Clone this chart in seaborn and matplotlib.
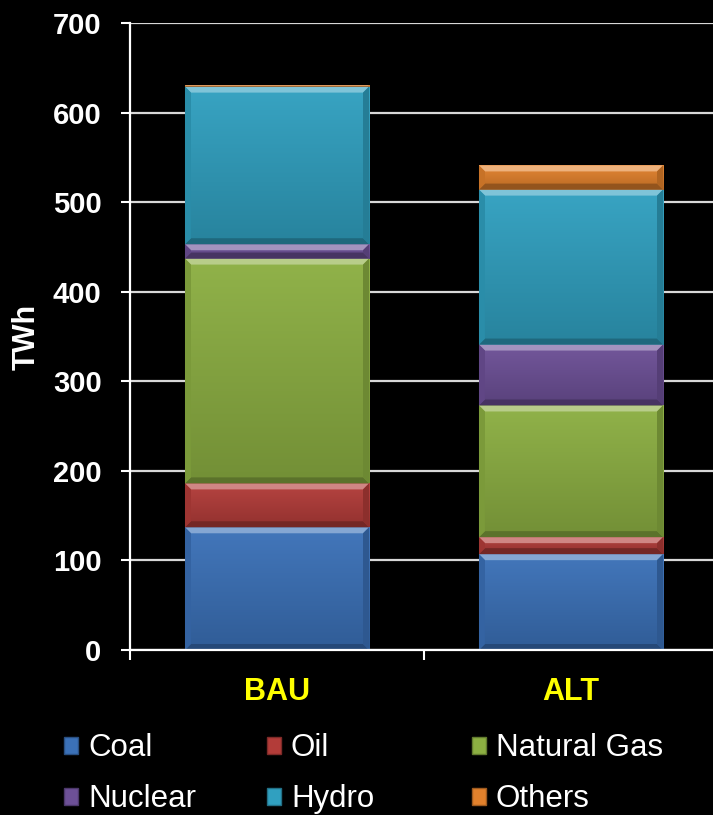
import numpy as np
import pandas as pd
import matplotlib
matplotlib.use("Agg")
import matplotlib.pyplot as plt
from matplotlib.patches import Polygon
from matplotlib.colors import to_rgb
import seaborn as sns

# Electricity generation by source (TWh) under two scenarios
scenarios = ["BAU", "ALT"]
sources = ["Coal", "Oil", "Natural Gas", "Nuclear", "Hydro", "Others"]
coal = [137, 107]
oil = [49, 19]
natural_gas = [251, 147]
nuclear = [16, 68]
hydro = [176, 173]
others = [1.5, 27]

colors = ["#3B71B8", "#B33C39", "#8CAF42", "#6D5097", "#30A0C0", "#E2812C"]

yticks = [0, 100, 200, 300, 400, 500, 600, 700]

sns.set_theme(style="dark")
plt.rcParams["font.family"] = ["Liberation Sans", "DejaVu Sans"]

series = [coal, oil, natural_gas, nuclear, hydro, others]
df = pd.DataFrame({name: vals for name, vals in zip(sources, series)}, index=scenarios)
cum = df.cumsum(axis=1)

W, H = 713, 815
fig = plt.figure(figsize=(W / 100, H / 100), dpi=100, facecolor="black")
ax = fig.add_axes([130 / W, (H - 650) / H, 588 / W, 627 / H])
ax.set_facecolor("black")

bar_width = 0.626
# Stacked bars: draw cumulative totals from the top layer down
layer_patches = {}
for name, col in reversed(list(zip(sources, colors))):
    before = len(ax.patches)
    sns.barplot(x=scenarios, y=cum[name].values, color=col, saturation=1,
                width=bar_width, ax=ax, zorder=2, linewidth=0)
    layer_patches[name] = ax.patches[before:]

ax.set_xlim(-0.5, 1.5)
ax.set_ylim(0, 700)

# Convert pixel sizes to data units for the bevel edges
fig.canvas.draw()
inv = ax.transData.inverted()
p0 = inv.transform((0, 0))
p1 = inv.transform((1, 1))
dx_px = p1[0] - p0[0]
dy_px = p1[1] - p0[1]
bev = 6


def mix(c, t, amount):
    c = np.array(to_rgb(c))
    t = np.array(to_rgb(t))
    return tuple(c + (t - c) * amount)


for i, (name, col) in enumerate(zip(sources, colors)):
    for j, patch in enumerate(layer_patches[name]):
        x0 = patch.get_x()
        w = patch.get_width()
        top = cum[name].values[j]
        bot = top - df[name].values[j]
        if top - bot <= 0:
            continue
        # vertical shading inside the segment
        c_top = np.array(mix(col, "white", 0.04))
        c_bot = np.array(mix(col, "black", 0.18))
        t = np.linspace(0, 1, 64)[:, None]
        grad = c_top * (1 - t) + c_bot * t
        img = np.repeat(grad[:, None, :], 2, axis=1)
        im = ax.imshow(img, extent=(x0, x0 + w, bot, top), aspect="auto",
                       origin="upper", zorder=2.1, interpolation="bilinear")
        im.set_clip_path(patch)
        ax.set_xlim(-0.5, 1.5)
        ax.set_ylim(0, 700)

        bx = bev * dx_px
        by = min(bev * dy_px, (top - bot) / 2)
        bx_s = min(bx, by / dy_px * dx_px) if by < bev * dy_px else bx
        xl, xr = x0, x0 + w
        # top bevel (light), bottom bevel (dark), side bevels
        faces = [
            ([(xl, top), (xr, top), (xr - bx_s, top - by), (xl + bx_s, top - by)],
             mix(col, "white", 0.38)),
            ([(xl, bot), (xr, bot), (xr - bx_s, bot + by), (xl + bx_s, bot + by)],
             mix(col, "black", 0.35)),
            ([(xl, top), (xl + bx_s, top - by), (xl + bx_s, bot + by), (xl, bot)],
             mix(col, "black", 0.12)),
            ([(xr, top), (xr - bx_s, top - by), (xr - bx_s, bot + by), (xr, bot)],
             mix(col, "black", 0.22)),
        ]
        for pts, fc in faces:
            ax.add_patch(Polygon(pts, closed=True, facecolor=fc, edgecolor="none",
                                 zorder=2.2))

# Axes styling
ax.set_yticks(yticks)
ax.set_yticklabels([str(v) for v in yticks])
ax.yaxis.grid(True, color="#D8D8D8", linewidth=1.6, zorder=0)
ax.set_axisbelow(True)
ax.xaxis.grid(False)
for s in ["top", "right"]:
    ax.spines[s].set_visible(False)
for s in ["left", "bottom"]:
    ax.spines[s].set_visible(True)
    ax.spines[s].set_color("white")
    ax.spines[s].set_linewidth(1.6)

ax.tick_params(axis="y", colors="white", labelsize=21, length=6.5, width=1.5,
               direction="out", pad=14, left=True)
for lab in ax.get_yticklabels():
    lab.set_fontweight("bold")

ax.set_xticks([0, 1])
ax.set_xticklabels(scenarios)
ax.set_xticks([-0.5, 0.5, 1.5], minor=True)
ax.tick_params(axis="x", which="major", length=0, pad=19.5, labelsize=22,
               labelcolor="#FFFF00")
ax.tick_params(axis="x", which="minor", length=7.5, width=1.5, color="white",
               direction="out", bottom=True)
for lab in ax.get_xticklabels():
    lab.set_fontweight("bold")

ax.set_xlabel("")
ax.set_ylabel("TWh", color="white", fontsize=22, fontweight="bold", labelpad=8)

# Legend: three evenly spaced columns of two entries each
handles = [plt.Rectangle((0, 0), 1, 1, facecolor=c, edgecolor=mix(c, "black", 0.3),
                         linewidth=1) for c in colors]
col_x = [62, 265, 470]
for k, xpx in enumerate(col_x):
    idx = [k, k + 3]
    leg = fig.legend([handles[m] for m in idx], [sources[m] for m in idx],
                     loc="lower left", bbox_to_anchor=(xpx / W, -1 / H), ncol=1,
                     frameon=False, fontsize=22.5, labelcolor="white",
                     handlelength=0.46, handleheight=0.46, handletextpad=0.32,
                     labelspacing=0.68, borderaxespad=0.0, borderpad=0.05)

fig.savefig("out.png", dpi=100, facecolor="black")
